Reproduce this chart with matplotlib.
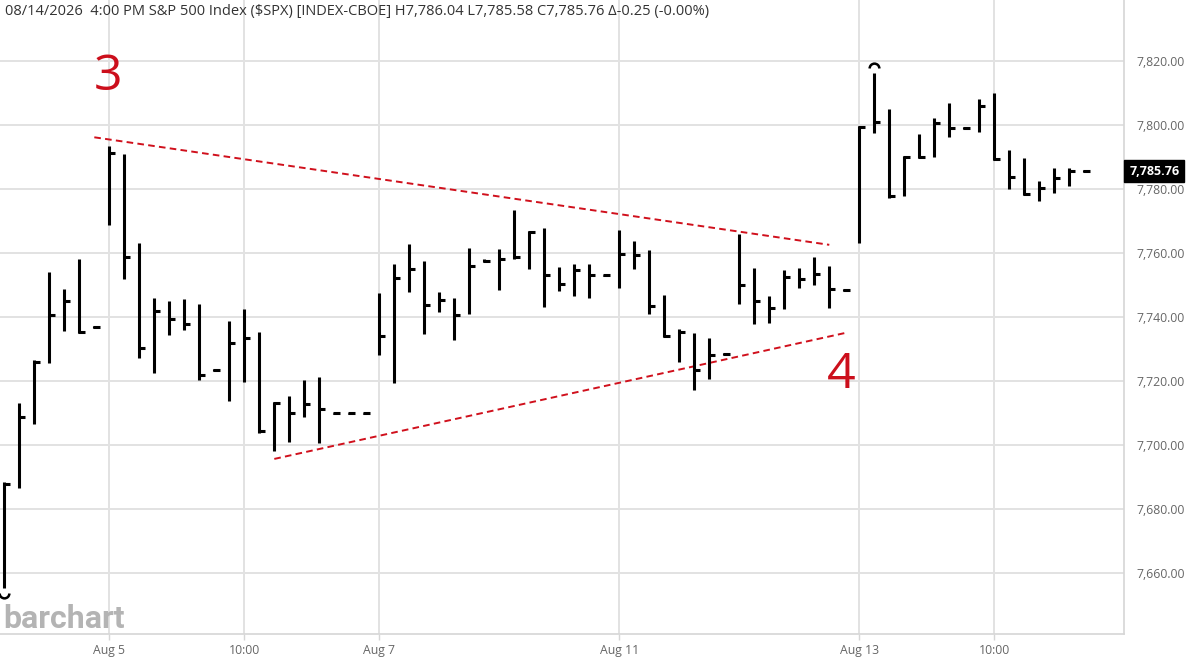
import matplotlib
matplotlib.use("Agg")
import matplotlib.pyplot as plt
from matplotlib.path import Path
from matplotlib.ticker import FuncFormatter

plt.rcParams['font.family'] = ['Open Sans', 'DejaVu Sans']

# hourly HLC bars
highs = [7688.7, 7713.2, 7726.7, 7754.3, 7748.8, 7758.2, 7737.4,
         7793.7, 7791.0, 7763.2, 7746.0, 7745.0, 7745.8, 7744.1, 7724.0,
         7738.9, 7742.7, 7735.6, 7713.5, 7715.6, 7720.5, 7721.3, 7710.3, 7710.3, 7710.3,
         7747.6, 7756.7, 7763.0, 7757.8, 7748.1, 7746.2, 7761.8, 7758.3,
         7761.3, 7773.6, 7767.0, 7767.9, 7755.9, 7756.7, 7756.7, 7753.4,
         7767.3, 7763.9, 7761.1, 7747.0, 7736.4, 7735.3, 7733.7, 7728.8,
         7766.0, 7755.6, 7746.7, 7754.8, 7755.6, 7758.8, 7756.2, 7748.8,
         7799.8, 7816.5, 7805.1, 7790.5, 7797.3, 7802.2, 7807.0, 7799.4,
         7808.2, 7810.1, 7792.3, 7789.7, 7782.7, 7786.6, 7786.6, 7786.04]
lows = [7655.4, 7686.6, 7706.6, 7725.7, 7735.8, 7735.3, 7736.6,
        7768.9, 7751.9, 7727.2, 7722.6, 7734.5, 7736.1, 7720.5, 7723.4,
        7714.0, 7719.8, 7703.8, 7698.4, 7701.0, 7709.0, 7700.7, 7709.9, 7709.9, 7709.9,
        7728.3, 7719.6, 7748.1, 7734.8, 7741.8, 7733.0, 7741.0, 7757.2,
        7748.6, 7758.2, 7755.2, 7743.4, 7748.4, 7746.8, 7746.0, 7752.9,
        7749.1, 7755.1, 7741.1, 7734.0, 7726.0, 7717.3, 7720.8, 7728.3,
        7744.1, 7738.0, 7738.2, 7742.6, 7749.1, 7750.2, 7743.1, 7748.3,
        7763.4, 7797.6, 7777.3, 7778.0, 7789.9, 7790.0, 7796.5, 7798.8,
        7798.1, 7789.2, 7780.1, 7778.3, 7776.5, 7779.0, 7781.1, 7785.58]
closes = [7688.0, 7709.0, 7726.2, 7740.8, 7745.0, 7735.6, 7737.0,
          7791.3, 7759.0, 7730.4, 7742.1, 7739.4, 7737.9, 7722.0, 7723.6,
          7732.1, 7733.7, 7704.5, 7713.2, 7710.1, 7713.0, 7711.4, 7710.1, 7710.1, 7710.1,
          7734.2, 7752.3, 7755.1, 7743.9, 7745.5, 7740.8, 7756.0, 7757.6,
          7758.2, 7758.8, 7766.8, 7753.3, 7750.5, 7754.8, 7753.3, 7753.2,
          7759.8, 7759.5, 7743.6, 7734.2, 7735.4, 7723.6, 7728.3, 7728.6,
          7750.0, 7745.2, 7742.9, 7752.6, 7752.0, 7753.5, 7748.9, 7748.6,
          7799.6, 7801.2, 7777.8, 7790.0, 7790.2, 7800.7, 7799.1, 7799.1,
          7806.2, 7789.5, 7783.9, 7778.5, 7780.5, 7783.5, 7785.8, 7785.76]

tick_pos = [7, 16, 25, 41, 57, 66]
tick_labels = ['Aug 5', '10:00', 'Aug 7', 'Aug 11', 'Aug 13', '10:00']
y_ticks = [7660, 7680, 7700, 7720, 7740, 7760, 7780, 7800, 7820]

# wave annotations
upper_line = ([6.0, 55.0], [7796.3, 7762.7])
lower_line = ([18.0, 56.0], [7695.8, 7735.1])
wave_labels = [('3', 6.9, 7811.1), ('4', 55.8, 7717.9)]

title = ('08/14/2026  4:00 PM S&P 500 Index ($SPX) [INDEX-CBOE] '
         'H7,786.04 L7,785.58 C7,785.76 \u0394-0.25 (-0.00%)')
last_price = 7785.76

fig = plt.figure(figsize=(11.88, 6.61), dpi=100)
ax = fig.add_axes([0.0, 1 - 634.3 / 661, 1124.3 / 1188, 634.3 / 661])

x = list(range(len(highs)))
ax.vlines(x, lows, highs, color='black', lw=2.2, capstyle='butt', zorder=3)
ax.hlines(closes, [i - 0.1 for i in x], [i + 0.38 for i in x], color='black',
          lw=2.2, capstyle='butt', zorder=3)

# high / low markers
i_lo = lows.index(min(lows))
i_hi = highs.index(max(highs))
ax.plot([i_lo], [lows[i_lo] - 1.6], marker=Path.arc(180, 360), ms=7, mew=1.8,
        mfc='none', mec='black', ls='none', zorder=4)
ax.plot([i_hi], [highs[i_hi] + 1.6], marker=Path.arc(0, 180), ms=7, mew=1.8,
        mfc='none', mec='black', ls='none', zorder=4)

for xs, ys in (upper_line, lower_line):
    ax.plot(xs, ys, color='#d0101c', lw=1.4, dashes=(3.4, 2.2), zorder=2)
for txt, xx, yy in wave_labels:
    ax.text(xx, yy, txt, color='#cc0f1c', fontsize=36, ha='center', va='baseline')

ax.set_xlim(-4.3 / 15, (1124.3 - 4.3) / 15)
ax.set_ylim(7641.0, 7839.2)

ax.set_xticks(tick_pos)
ax.set_xticklabels(tick_labels)
ax.set_yticks(y_ticks)
ax.yaxis.set_major_formatter(FuncFormatter(lambda v, p: f'{v:,.2f}'))
ax.yaxis.tick_right()
ax.tick_params(axis='y', length=0, pad=9, labelsize=8.8, labelcolor='#666666')
ax.tick_params(axis='x', length=4, width=1, color='#d6d6d6', pad=3,
               labelsize=8.8, labelcolor='#666666')
ax.grid(True, color='#e2e2e2', lw=1.4, zorder=0)
for side in ('top', 'left'):
    ax.spines[side].set_visible(False)
for side in ('right', 'bottom'):
    ax.spines[side].set_color('#d6d6d6')
    ax.spines[side].set_linewidth(1.2)

ax.annotate(f'{last_price:,.2f}', xy=(1.0, last_price), xycoords=('axes fraction', 'data'),
            xytext=(3.5, 0), textcoords='offset points', ha='left', va='center',
            color='white', fontsize=9, fontweight='bold', annotation_clip=False,
            bbox=dict(boxstyle='square,pad=0.38', fc='black', ec='black'))

fig.text(5 / 1188, 1 - 12 / 661, title, fontsize=10.5, color='#333333', va='center')
fig.text(3 / 1188, 1 - 628 / 661, 'barchart', fontsize=23, fontweight='bold',
         color='#b4b4b4', family='Roboto', va='baseline')

fig.savefig('out.png', dpi=100)
